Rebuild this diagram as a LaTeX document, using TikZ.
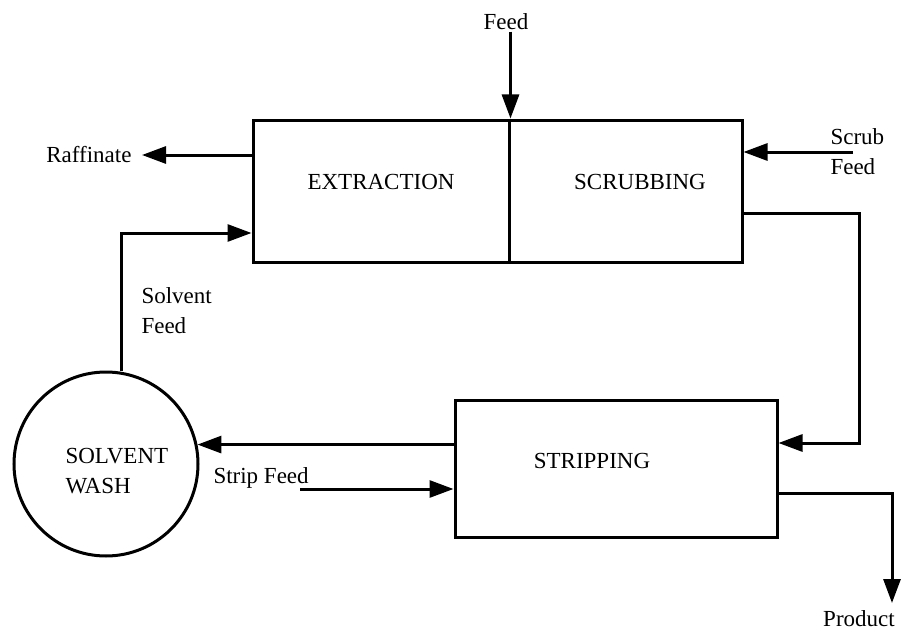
\documentclass[tikz,border=0pt]{standalone}
\usepackage{fontspec}
\setmainfont{Liberation Serif}
\usepackage{tikz}
\usetikzlibrary{arrows.meta,positioning}
\tikzset{
  unit/.style={draw,line width=3pt,inner sep=0pt},
  tag/.style={inner sep=0pt,font=\fontsize{23}{30}\selectfont,align=left}
}

\begin{document}
\begin{tikzpicture}[>={Triangle[length=24pt,width=17pt]},x=1pt,y=-1pt,line width=3pt]
  \useasboundingbox (0,0) rectangle (903,634);
  % process units
  \node[unit,minimum width=256pt,minimum height=142pt] (ext) at (381,191) {};
  \node[unit,minimum width=233pt,minimum height=142pt] (scr) at (625.5,191) {};
  \node[unit,minimum width=322pt,minimum height=137pt] (strip) at (616,468.5) {};
  \node[unit,circle,minimum size=184pt] (wash) at (106,464) {};
  \node[tag] (extt) at (381,182) {EXTRACTION};
  \node[tag] (scrt) at (640,182) {SCRUBBING};
  \node[tag] (stript) at (592,461) {STRIPPING};
  \node[tag,anchor=west] (washt) at (64,471) {SOLVENT\\WASH};
  % stream labels
  \node[tag] (feed) at (506,22) {Feed};
  \node[tag,anchor=east] (raff) at (133,155) {Raffinate};
  \node[tag,anchor=west] (scrub) at (829,152) {Scrub\\Feed};
  \node[tag,anchor=west] (solv) at (140,311) {Solvent\\Feed};
  \node[tag,anchor=west] (stripf) at (212,478) {Strip Feed};
  \node[tag] (prod) at (859,619) {Product};
  % free ends and bends
  \coordinate (scrubin) at (853,152);
  \coordinate (bend) at (859,213);
  \coordinate (back) at (859,443);
  \coordinate (sfeed) at (121,233);
  \coordinate (sfin) at (300,489);
  \coordinate (pbend) at (892,493);
  \coordinate (pend) at (892,603);
  % streams
  \draw[->] (feed.south -| ext.north east) -- (ext.north east);
  \draw[->,shorten >=9pt] (raff.east -| ext.west) -- (raff.east);
  \draw[->] (scrubin) -- (scrubin -| scr.east);
  \draw[->] (scr.east |- bend) -- (bend) -- (back) -- (back -| strip.east);
  \draw[->] (sfeed |- wash.north) -- (sfeed) -- (sfeed -| ext.west);
  \draw[->] (strip.west |- wash.12) -- (wash.12);
  \draw[->] (sfin) -- (sfin -| strip.west);
  \draw[->] (pbend -| strip.east) -- (pbend) -- (pend);
\end{tikzpicture}
\end{document}
